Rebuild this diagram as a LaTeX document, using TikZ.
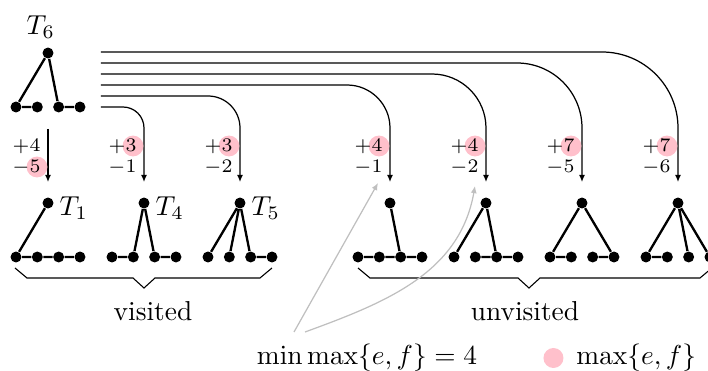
\documentclass[tikz,border=0pt]{standalone}
\usepackage{amsmath,amssymb}
\usepackage{xcolor,tikz}
\usetikzlibrary{arrows.meta,positioning,calc}
\definecolor{maxpink}{RGB}{255,192,203}

\begin{document}
\begin{tikzpicture}[x=0.365pt,y=0.365pt,
  vtx/.style={circle,fill=black,inner sep=0pt,minimum size=4pt},
  edge/.style={line width=0.85pt},
  conn/.style={-{Latex[length=2.6pt,width=2.2pt]},line width=0.45pt},
  hint/.style={-{Latex[length=2.6pt,width=2.2pt]},black!25,line width=0.45pt},
  num/.style={font=\scriptsize,inner sep=0pt,anchor=east},
  tname/.style={inner sep=0pt,anchor=north west}]
\useasboundingbox (0,0) rectangle (708,-371);

% tree T6 at the top
\node[vtx] (r) at (48,-53) {};
\foreach \i in {0,...,3} \node[vtx] (r\i) at (16+21.33*\i,-107) {};
\draw[edge] (r1) -- (r0) -- (r) -- (r2) -- (r3);
\node[tname] (t6lab) at ($(r)+(-22,38)$) {$T_6$};

% the seven trees below
\foreach \t/\x in {a/16,b/112,c/208,d/358,e/454,f/550,g/646}{
  \node[vtx] (\t) at (\x+32,-203) {};
  \foreach \i in {0,...,3} \node[vtx] (\t\i) at (\x+21.33*\i,-257) {};
  \coordinate (\t-in) at ($(\t)+(0,21)$);
}
\draw[edge] (a) -- (a0) -- (a1) -- (a2) -- (a3);
\draw[edge] (b0) -- (b1) -- (b) -- (b2) -- (b3);
\draw[edge] (c) -- (c0) (c) -- (c1) (c) -- (c2) -- (c3);
\draw[edge] (d) -- (d2) (d0) -- (d1) -- (d2) -- (d3);
\draw[edge] (e0) -- (e) -- (e2) (e1) -- (e2) -- (e3);
\draw[edge] (f1) -- (f0) -- (f) -- (f3) -- (f2);
\draw[edge] (g1) -- (g0) -- (g) -- (g3) (g) -- (g2);
\node[tname] (t1lab) at ($(a)+(11,7)$) {$T_1$};
\node[tname] (t4lab) at ($(b)+(11,7)$) {$T_4$};
\node[tname] (t5lab) at ($(c)+(11,7)$) {$T_5$};

% connectors out of T6
\coordinate (a-top) at ($(a)+(0,74)$);
\draw[conn] (a-top) -- (a-in);
\foreach \t [count=\i from 0] in {b,c,d,e,f,g}{
  \pgfmathsetmacro{\rad}{(21+11*\i)*0.365}
  \coordinate (s\t) at ($(r3)+(21,11*\i)$);
  \draw[conn,rounded corners=\rad pt] (s\t) -| (\t-in);
}

% e and f values, max marked
\foreach \t/\p/\m/\hy in {a/4/5/36,b/3/1/57,c/3/2/57,d/4/1/57,e/4/2/57,f/7/5/57,g/7/6/57}{
  \fill[maxpink] ($(\t)+(-11,\hy)$) circle (3.8pt);
  \node[num] (\t-p) at ($(\t)+(-7,57)$) {$+\p$};
  \node[num] (\t-m) at ($(\t)+(-7,36)$) {$-\m$};
}

% braces
\draw ($(a0)+(-1,-11)$) -- ++(12,-10) -- ($(b)+(-11,-75)$) -- ($(b)+(0,-85)$)
  -- ($(b)+(11,-75)$) -- ($(c3)+(-12,-21)$) -- ($(c3)+(0,-11)$);
\draw ($(d0)+(0,-11)$) -- ++(12,-10) -- ($(e3)+(0,-21)$) -- ($(e3)+(11,-31)$)
  -- ($(e3)+(22,-21)$) -- ($(g3)+(-10,-21)$) -- ++(12,10);
\node (vis) at (153,-311) {visited};
\node (unvis) at (525,-311) {unvisited};

% legend
\node (mm) at (367,-358) {$\min\max\{e,f\}=4$};
\node[circle,fill=maxpink,inner sep=0pt,minimum size=7.3pt,right=20.5pt of mm] (key) {};
\node[inner sep=0pt,right=4.3pt of key] (keytext) {$\max\{e,f\}$};
\coordinate (d-hint) at ($(d)+(-12,20)$);
\coordinate (e-hint) at ($(e)+(-11,17)$);
\coordinate (h1) at ($(mm)+(-73,26)$);
\coordinate (h2) at ($(mm)+(-62,26)$);
\draw[hint] (h1) -- (d-hint);
\draw[hint] (h2) to[out=20,in=-100] (e-hint);
\end{tikzpicture}
\end{document}
